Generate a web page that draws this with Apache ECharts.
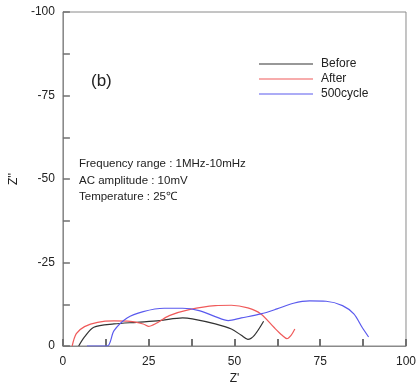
<!DOCTYPE html>
<html><head><meta charset="utf-8">
<script src="https://cdn.jsdelivr.net/npm/echarts@6/dist/echarts.min.js"></script>
<style>html,body{margin:0;padding:0;background:#fff}#c{width:419px;height:390px}</style>
</head><body><div id="c"></div>
<script>
const seriesNames = ['Before', 'After', '500cycle'];
const before = [[4.6,0],[6.3,-2.7],[9.0,-5.6],[14.9,-6.6],[21.5,-7.1],[28.2,-7.6],[34.9,-8.4],[37.7,-8.1],[44.4,-6.6],[49.1,-5.1],[52.0,-3.2],[53.9,-2.0],[55.8,-3.2],[58.5,-7.4]];
const after = [[2.7,0],[3.9,-3.7],[6.3,-5.8],[10.1,-7.1],[14.9,-7.5],[19.6,-7.4],[23.4,-6.6],[24.9,-5.9],[27.2,-6.8],[31.0,-9.1],[36.8,-10.9],[44.4,-12.1],[49.1,-12.2],[53.9,-11.4],[57.7,-9.6],[61.5,-5.6],[63.9,-3.2],[65.3,-2.2],[66.5,-3.2],[67.6,-5.1]];
const cycle500 = [[7.0,0],[12.9,0],[14.9,-4.6],[18.7,-8.4],[23.4,-10.3],[29.5,-11.3],[34.9,-11.3],[39.7,-10.6],[44.4,-8.8],[48.2,-7.6],[52.0,-8.4],[57.7,-9.6],[62.4,-11.1],[67.2,-12.8],[71.9,-13.5],[76.7,-13.4],[81.5,-12.1],[84.8,-9.6],[87.2,-5.6],[89.1,-2.7]];
const notes = ['Frequency range : 1MHz-10mHz', 'AC amplitude : 10mV', 'Temperature : 25\u2103'];

const chart = echarts.init(document.getElementById('c'));
const axisCol = '#8a8a8a';
const tickCol = '#707070';
const font = 'Liberation Sans, Arial, sans-serif';
function mkSeries(name, data, color) {
  return { name, type: 'line', data, smooth: 0.3, showSymbol: false, symbol: 'none',
    lineStyle: { color, width: 1.2 }, itemStyle: { color } };
}
chart.setOption({
  animation: false,
  grid: { left: 58, right: 11, top: 12, bottom: 41, show: true, borderColor: axisCol, borderWidth: 1, backgroundColor: 'transparent' },
  title: [
    { text: '(b)', left: 86, top: 68, textStyle: { fontSize: 17, fontWeight: 'normal', color: '#222', fontFamily: font } },
    { text: notes.join('\n'), left: 74, top: 151, textStyle: { fontSize: 11.5, fontWeight: 'normal', color: '#222', lineHeight: 16.5, fontFamily: font } }
  ],
  legend: {
    data: seriesNames, orient: 'vertical', left: 254, top: 53, icon: 'rect',
    itemWidth: 54, itemHeight: 1, itemGap: 3,
    textStyle: { fontSize: 12, color: '#222', fontFamily: font, padding: [0, 0, 0, 3] }
  },
  xAxis: {
    type: 'value', min: 0, max: 100, interval: 12.5, name: "Z'", nameLocation: 'middle', nameGap: 27,
    nameTextStyle: { fontSize: 12, color: '#222', fontFamily: font },
    axisLine: { show: true, lineStyle: { color: axisCol } },
    axisTick: { show: true, inside: true, length: 7, lineStyle: { color: tickCol, width: 2 } },
    axisLabel: { color: '#222', fontSize: 12, fontFamily: font, margin: 10,
      formatter: v => (v % 25 === 0 ? String(v) : '') },
    splitLine: { show: false }
  },
  yAxis: {
    type: 'value', min: -100, max: 0, interval: 12.5, inverse: true, name: "Z''", nameLocation: 'middle', nameGap: 34,
    nameRotate: 90,
    nameTextStyle: { fontSize: 12, color: '#222', fontFamily: font },
    axisLine: { show: true, lineStyle: { color: axisCol } },
    axisTick: { show: true, inside: true, length: 7, lineStyle: { color: tickCol, width: 1.5 } },
    axisLabel: { color: '#222', fontSize: 12, fontFamily: font, margin: 8,
      formatter: v => (v % 25 === 0 ? String(v) : '') },
    splitLine: { show: false }
  },
  series: [
    mkSeries(seriesNames[0], before, '#333333'),
    mkSeries(seriesNames[1], after, '#f05a5a'),
    mkSeries(seriesNames[2], cycle500, '#5a5aee')
  ]
});
</script></body></html>
